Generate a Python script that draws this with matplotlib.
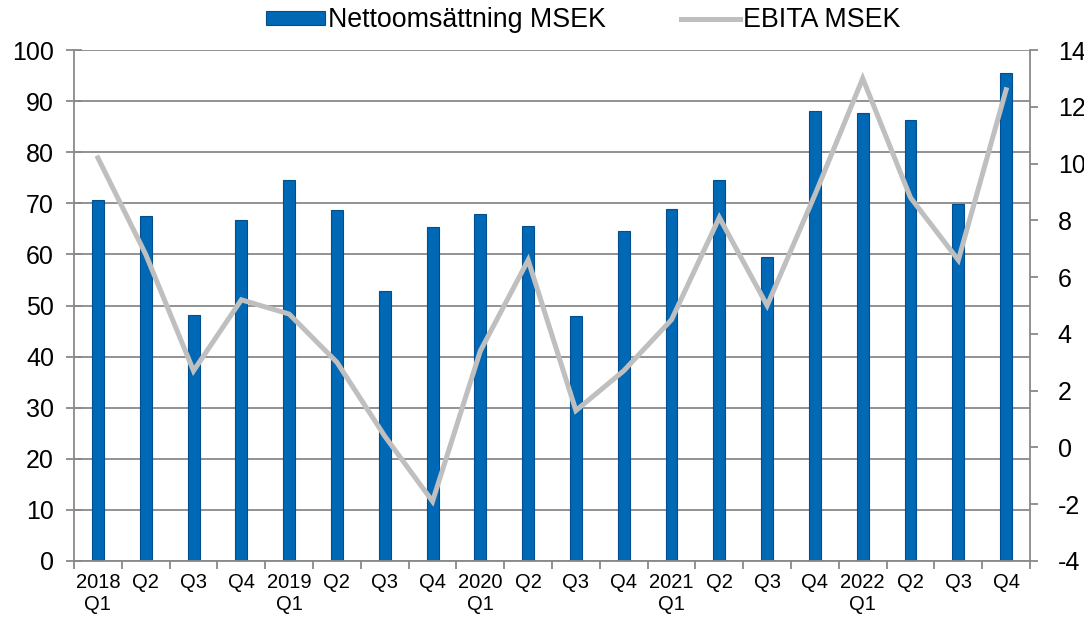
import numpy as np
import matplotlib
matplotlib.use("Agg")
import matplotlib.pyplot as plt
from matplotlib.lines import Line2D
from matplotlib.patches import Patch

# %%
# data
quarters = [
    "2018\nQ1", "Q2", "Q3", "Q4",
    "2019\nQ1", "Q2", "Q3", "Q4",
    "2020\nQ1", "Q2", "Q3", "Q4",
    "2021\nQ1", "Q2", "Q3", "Q4",
    "2022\nQ1", "Q2", "Q3", "Q4",
]
net_sales = [
    70.6, 67.6, 48.1, 66.7,
    74.6, 68.7, 52.9, 65.3,
    68.0, 65.6, 47.9, 64.6,
    68.8, 74.6, 59.4, 88.1,
    87.7, 86.4, 69.9, 95.5,
]
ebita = [
    10.2, 6.8, 2.7, 5.2,
    4.7, 3.0, 0.4, -1.9,
    3.4, 6.6, 1.3, 2.7,
    4.5, 8.1, 5.0, 8.9,
    13.0, 8.8, 6.6, 12.6,
]

# %%
plt.rcParams["font.family"] = ["Liberation Sans", "DejaVu Sans"]
plt.rcParams["axes.unicode_minus"] = False

grid_col = "#898989"
bar_col = "#0068B5"
line_col = "#BFBFBF"

fig = plt.figure(figsize=(10.84, 6.19), dpi=100)
ax = fig.add_axes([0.0683, 0.0937, 0.8819, 0.8255])

x = np.arange(len(quarters))
ax.bar(x, net_sales, width=0.25, color=bar_col, edgecolor="#00508F",
       linewidth=0.8, zorder=2)
ax.set_xlim(-0.5, len(quarters) - 0.5)
ax.set_ylim(0, 100)
ax.set_yticks(np.arange(0, 101, 10))
ax.yaxis.grid(True, color=grid_col, linewidth=1.3, zorder=0)
ax.set_axisbelow(True)

ax.set_xticks(x)
ax.set_xticklabels(quarters, fontsize=14.5)
ax.set_xticks(np.arange(-0.5, len(quarters)), minor=True)
ax.tick_params(axis="x", which="major", length=0, pad=9)
ax.tick_params(axis="x", which="minor", length=6, width=1.3,
               color=grid_col, direction="out")
ax.tick_params(axis="y", labelsize=18, length=11, width=1.3,
               color=grid_col, direction="inout", pad=9)

for side in ["top", "right"]:
    ax.spines[side].set_visible(False)
for side in ["left", "bottom"]:
    ax.spines[side].set_color(grid_col)
    ax.spines[side].set_linewidth(1.3)

ax2 = ax.twinx()
ax2.plot(x, ebita, color=line_col, linewidth=3.6, solid_joinstyle="miter",
         zorder=3)
ax2.set_ylim(-4, 14)
ax2.set_yticks(np.arange(-4, 15, 2))
ax2.tick_params(axis="y", labelsize=18, length=6, width=1.3,
                color=grid_col, direction="out", pad=14)
for side in ["top", "left", "bottom"]:
    ax2.spines[side].set_visible(False)
ax2.spines["right"].set_color(grid_col)
ax2.spines["right"].set_linewidth(1.3)

handles = [
    Patch(facecolor=bar_col, edgecolor="#00508F", linewidth=0.8),
    Line2D([0], [0], color=line_col, linewidth=3.6),
]
fig.legend(handles, ["Nettoomsättning MSEK", "EBITA MSEK"],
           loc="center", bbox_to_anchor=(0.538, 0.967), ncol=2,
           frameon=False, fontsize=19.3, handlelength=2.2, handleheight=0.45,
           handletextpad=0.1, columnspacing=2.8)

fig.savefig("out.png", dpi=100)
